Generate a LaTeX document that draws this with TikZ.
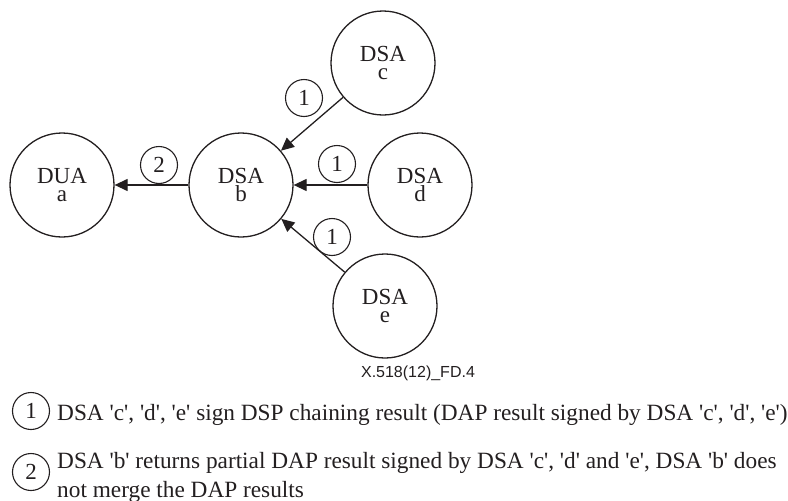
\documentclass[tikz,border=0pt]{standalone}
\usepackage{fontspec}
\setmainfont{Liberation Serif}
\newfontfamily\figlabelfont{Liberation Sans}
\usepackage{xcolor}
\definecolor{inkgray}{RGB}{35,31,32}
\usepackage{tikz}
\usetikzlibrary{arrows.meta}
\newcommand{\quoted}[1]{\textquotesingle#1\textquotesingle}

\begin{document}
\begin{tikzpicture}[x=1pt, y=-1pt,
  agent/.style={circle, draw=inkgray, line width=1.3pt, minimum size=104pt, inner sep=0pt,
    align=center, text=inkgray, font=\fontsize{23}{18.5}\selectfont},
  stepmark/.style={circle, draw=inkgray, line width=1.1pt, minimum size=37pt, inner sep=0pt,
    text=inkgray, font=\fontsize{23}{23}\selectfont},
  flow/.style={draw=inkgray, line width=1.3pt, -{Triangle[length=13pt, width=12pt]}},
  legend/.style={anchor=base west, inner sep=0pt, text=inkgray, font=\fontsize{23.3}{23.3}\selectfont}]
  \useasboundingbox (0,0) rectangle (788,501);

  % Agents
  \node[agent] (duaA) at (62,185) {DUA\\a};
  \node[agent] (dsaB) at (241,185) {DSA\\b};
  \node[agent] (dsaC) at (383,63) {DSA\\c};
  \node[agent] (dsaD) at (420,185) {DSA\\d};
  \node[agent] (dsaE) at (385,306) {DSA\\e};

  % Results
  \draw[flow] (dsaB) -- (duaA);
  \draw[flow] (dsaC) -- (dsaB);
  \draw[flow] (dsaD) -- (dsaB);
  \draw[flow] (dsaE) -- (dsaB);

  % Step numbers
  \node[stepmark] (markAB) at (159,165) {2};
  \node[stepmark] (markCB) at (304,98) {1};
  \node[stepmark] (markDB) at (337,164) {1};
  \node[stepmark] (markEB) at (332,237) {1};

  \node[text=inkgray, font=\figlabelfont\fontsize{16}{16}\selectfont] (figid) at (418,373) {X.518(12)\_FD.4};

  % Key
  \node[stepmark] (keyOne) at (31,411) {1};
  \node[legend] (keyOneText) at (57,420) {DSA \quoted{c}, \quoted{d}, \quoted{e} sign DSP chaining result (DAP result signed by DSA \quoted{c}, \quoted{d}, \quoted{e})};
  \node[stepmark] (keyTwo) at (31,472) {2};
  \node[legend] (keyTwoText) at (57,468) {DSA \quoted{b} returns partial DAP result signed by DSA \quoted{c}, \quoted{d} and \quoted{e}, DSA \quoted{b} does};
  \node[legend] (keyTwoMore) at (57,497) {not merge the DAP results};
\end{tikzpicture}
\end{document}
